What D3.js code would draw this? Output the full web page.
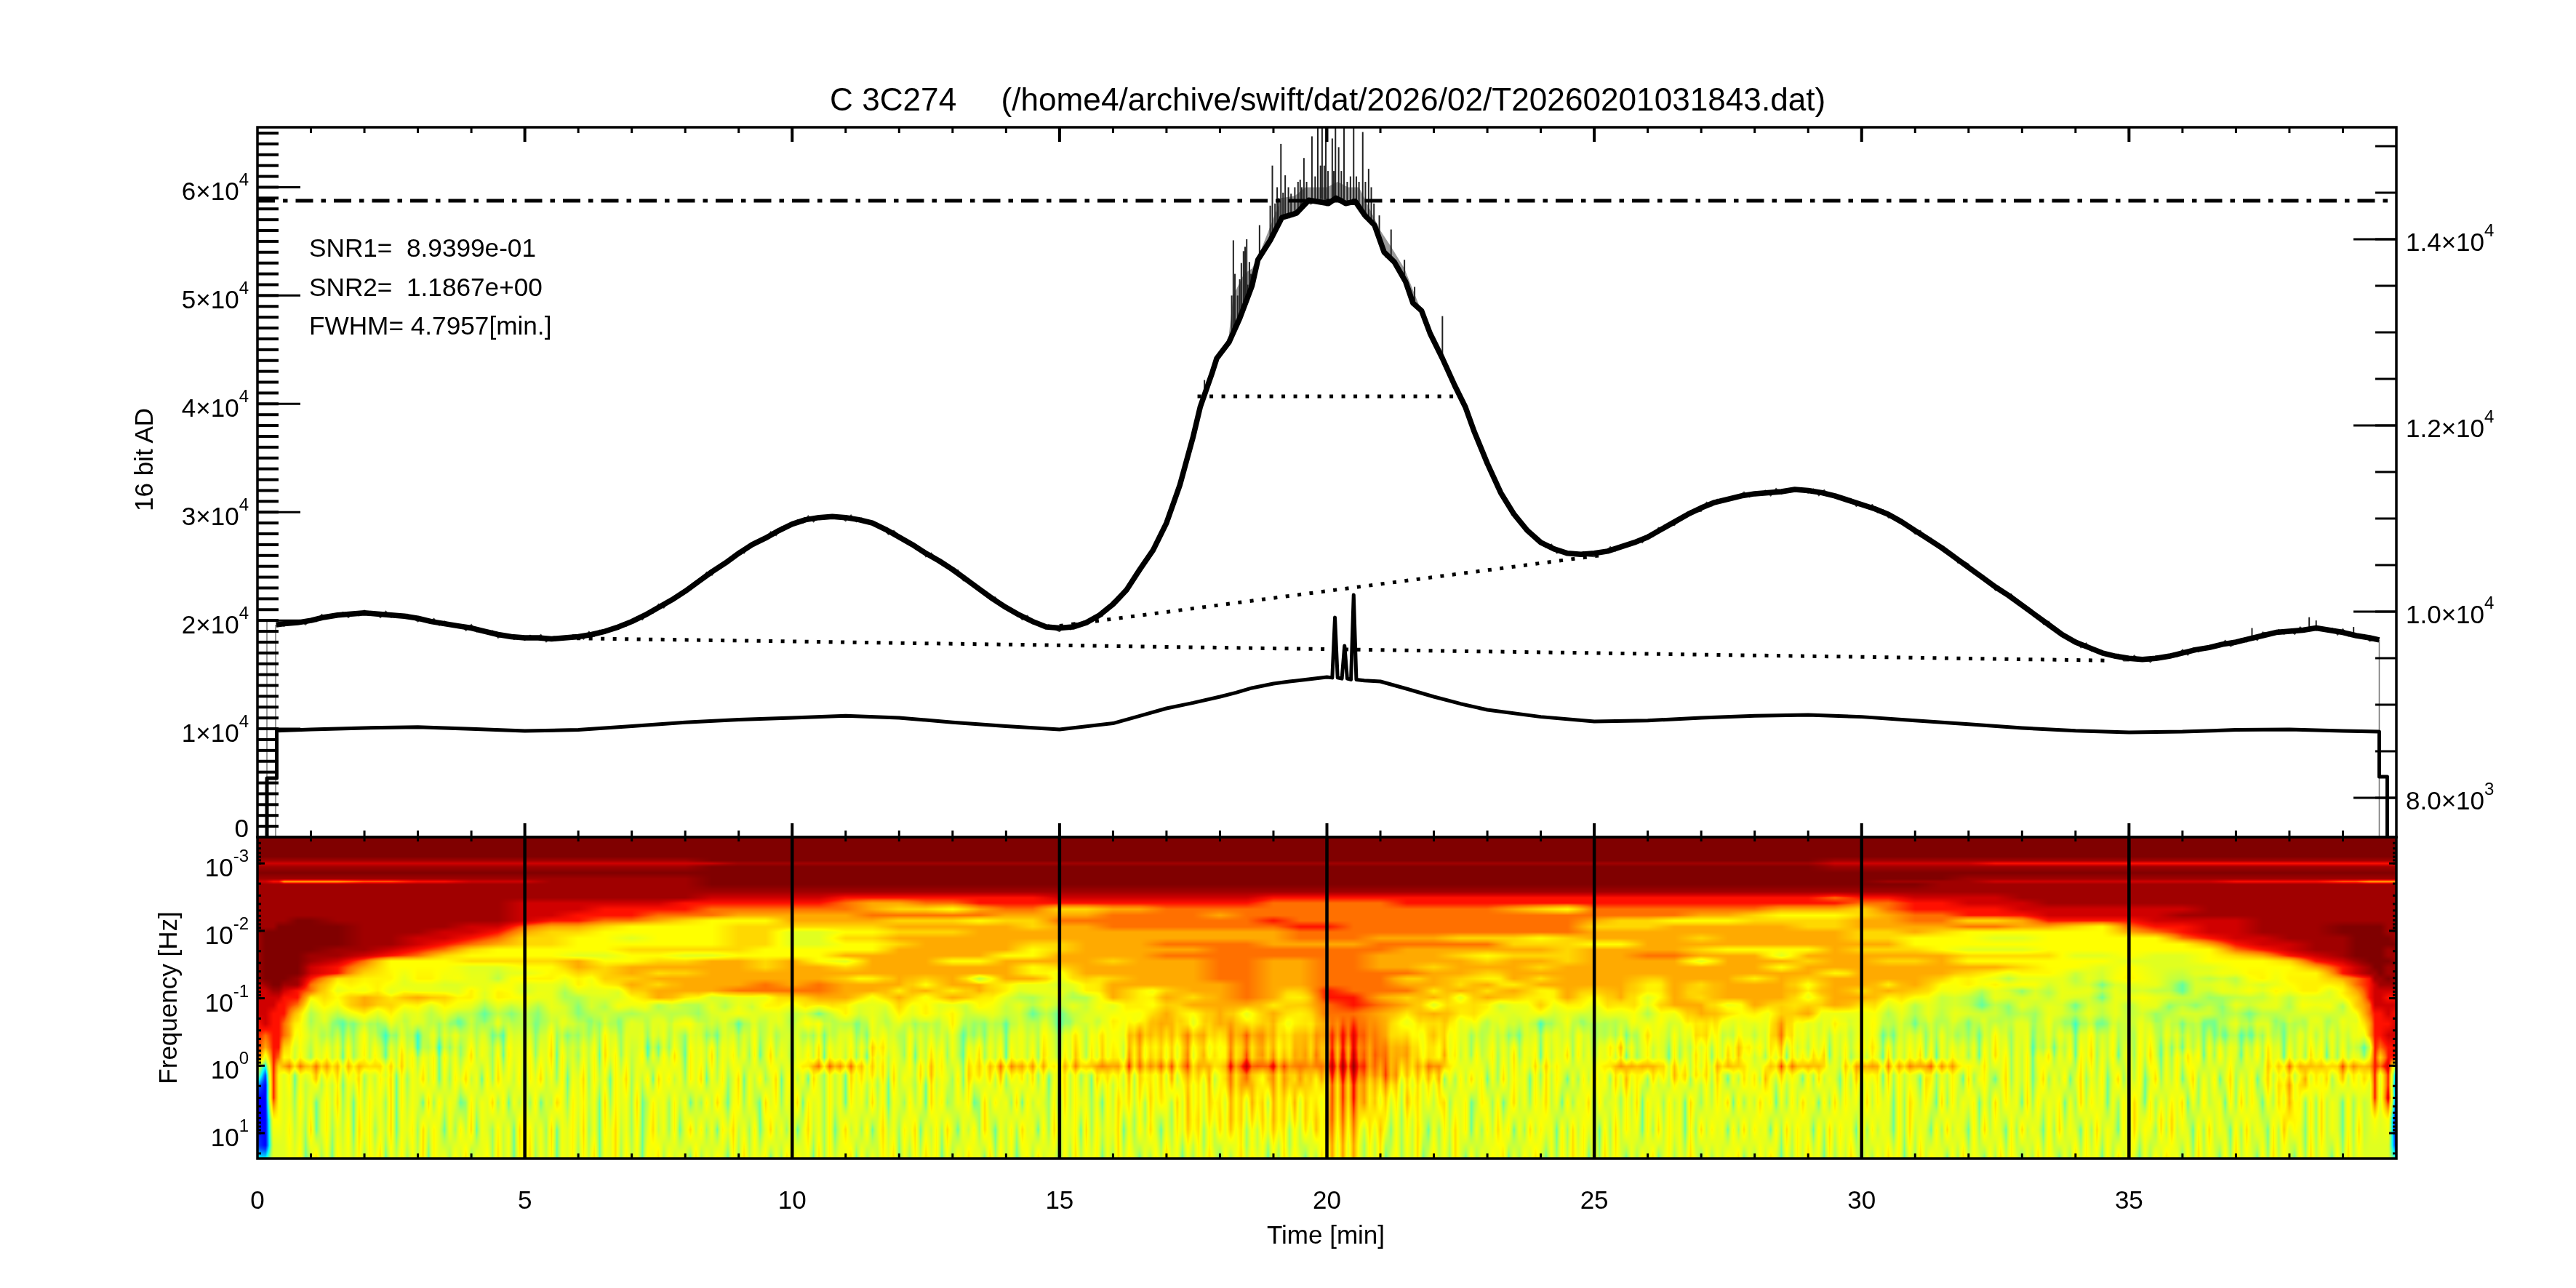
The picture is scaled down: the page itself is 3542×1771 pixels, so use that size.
<!DOCTYPE html>
<html><head><meta charset="utf-8">
<script src="https://cdn.jsdelivr.net/npm/d3@7"></script>
<style>
html,body{margin:0;padding:0;background:#fff;}
#wrap{position:relative;width:3542px;height:1771px;overflow:hidden;}
canvas{position:absolute;}
svg{position:absolute;left:0;top:0;}
text{font-family:"Liberation Sans",Arial,sans-serif;fill:#000;white-space:pre;}
</style></head>
<body><div id="wrap"></div>
<script>
// ---------- text ----------
const titleText = "C 3C274     (/home4/archive/swift/dat/2026/02/T20260201031843.dat)";
const infoLines = ["SNR1=  8.9399e-01","SNR2=  1.1867e+00","FWHM= 4.7957[min.]"];
const xTickLabels = [0,5,10,15,20,25,30,35];
const leftLabels = [[0,"0"],[10000,"1"],[20000,"2"],[30000,"3"],[40000,"4"],[50000,"5"],[60000,"6"]];
const rightLabels = [[8000,"8.0","3"],[10000,"1.0","4"],[12000,"1.2","4"],[14000,"1.4","4"]];
const freqLabels = [-3,-2,-1,0,1];

// ---------- upper series (left axis, 16 bit AD) ----------
const upperT = [0.35,0.5,0.75,1,1.25,1.5,1.75,2,2.25,2.5,2.75,3,3.25,3.5,3.75,4,4.25,4.5,4.75,5,5.25,5.5,5.75,6,6.25,6.5,6.75,7,7.25,7.5,7.75,8,8.25,8.5,8.75,9,9.25,9.5,9.75,10,10.25,10.5,10.75,11,11.25,11.5,11.75,12,12.25,12.5,12.75,13,13.25,13.5,13.75,14,14.25,14.5,14.75,15,15.25,15.5,15.75,16,16.25,16.5,16.75,17,17.25,17.5,17.63,17.85,17.94,18.17,18.37,18.6,18.71,18.94,19.16,19.43,19.66,20.03,20.17,20.35,20.53,20.71,20.89,21.07,21.26,21.47,21.61,21.77,21.93,22.16,22.39,22.59,22.75,23,23.25,23.5,23.75,24,24.25,24.5,24.75,25,25.25,25.5,25.75,26,26.25,26.5,26.75,27,27.25,27.5,27.75,28,28.25,28.5,28.75,29,29.25,29.5,29.75,30,30.25,30.5,30.75,31,31.25,31.5,31.75,32,32.25,32.5,32.75,33,33.25,33.5,33.75,34,34.25,34.5,34.75,35,35.25,35.5,35.75,36,36.25,36.5,36.75,37,37.25,37.5,37.75,38,38.25,38.5,38.75,39,39.25,39.5,39.68];
const upperV = [19600,19700,19800,20000,20300,20500,20600,20700,20600,20500,20400,20200,19900,19700,19500,19300,19000,18700,18500,18400,18400,18300,18400,18500,18700,19000,19400,19900,20500,21200,21900,22700,23600,24500,25300,26200,27000,27600,28300,28900,29300,29500,29600,29500,29300,29000,28400,27700,27000,26200,25500,24700,23800,22900,22000,21200,20500,19900,19400,19300,19400,19800,20500,21500,22800,24700,26500,29000,32500,37000,39700,42800,44200,45700,47900,50900,53300,55100,57200,57600,58800,58500,59000,58500,58700,57400,56500,54000,53100,51300,49300,48600,46500,44200,41700,39700,37500,34500,31800,29800,28300,27200,26600,26200,26100,26200,26400,26800,27200,27700,28400,29100,29800,30400,30900,31200,31500,31700,31800,31900,32100,32000,31800,31500,31100,30700,30300,29800,29100,28300,27500,26700,25800,24900,24000,23100,22300,21400,20500,19600,18700,18000,17500,17000,16700,16500,16400,16500,16700,17000,17300,17500,17800,18000,18300,18600,18900,19000,19100,19300,19100,18900,18600,18400,18200];
const spikeT = [17.71,18.22,18.25,18.28,18.33,18.37,18.40,18.44,18.47,18.50,18.52,18.55,18.58,18.74,18.94,18.98,19.03,19.07,19.10,19.14,19.18,19.22,19.28,19.33,19.40,19.46,19.50,19.53,19.57,19.62,19.72,19.78,19.83,19.88,19.91,19.95,19.98,20.02,20.10,20.13,20.16,20.22,20.27,20.32,20.38,20.44,20.50,20.55,20.60,20.67,20.72,20.78,20.83,20.88,20.98,21.20,21.45,21.64,22.16,37.3,38.37,38.5,39.2];
const spikeV = [42200,50000,55100,52000,50000,51500,53000,54100,54500,55200,51000,53100,52000,56500,58300,62000,58500,60000,59000,64000,59500,61100,60000,59400,60000,60500,60700,60000,62700,60500,64700,61000,65500,62000,65500,62000,65500,61500,64500,61500,65500,63700,61500,65500,60500,61000,65500,61000,60500,65100,60500,61700,60000,58500,57400,56100,53300,50800,48100,19300,20300,20000,19400];
const envelopeT = [18.17,18.25,18.45,18.6,18.75,18.95,19.15,19.4,19.6,19.8,20,20.2,20.4,20.6,20.8,21,21.2,21.45,21.65,21.9];
const envelopeV = [46500,50000,52000,52500,54000,56500,59000,59200,60000,60000,60000,60500,60000,60000,58000,56000,54500,52500,50000,47000];
// sample-to-sample scatter about the curve, one char per 0.1 min
const hairRow = "4444527361 6283547162 7351826374 1638275461 8253716425 2738164537 6182735462 3716281546 5273816425 7162538174"+
"3728164635 1827365418 6352718463 2817536482 7361825473 1628374516 8273615482 3716582637 1748263581 7362847158"+
"2738465172 6183725461 8273516482 3618274563 7281635472 1638274561 7283516473 1827364582 6371825463 2718364571"+
"6382715463 1827364517 8263715482 3627184563 7182635471 2836175462 8172635481 3726185472 6183725471 82637144444";

// ---------- lower series (right axis) ----------
const lowerT = [0.177,0.177,0.36,0.36,1,2,3,4,5,6,7,8,9,10,11,12,13,14,15,16,16.5,17,17.5,18,18.3,18.6,19,19.3,19.6,20,20.1,20.15,20.2,20.28,20.33,20.38,20.45,20.5,20.55,20.7,21,21.5,22,22.5,23,24,25,26,27,28,29,30,31,32,33,34,35,36,37,38,39,39.68,39.68,39.83,39.83];
const lowerV = [7578,8211,8211,8720,8734,8750,8760,8740,8718,8730,8770,8810,8840,8859,8880,8860,8810,8770,8734,8800,8880,8961,9020,9086,9130,9180,9227,9250,9270,9297,9290,9937,9290,9280,9633,9280,9270,10180,9270,9260,9250,9170,9086,9010,8945,8870,8820,8830,8860,8880,8890,8870,8830,8790,8750,8720,8703,8710,8730,8735,8718,8711,8227,8227,7578];

// ---------- reference lines ----------
const peakLevel = [[0,58760],[40,58760]];
const fwhmLine = [[17.58,40690],[22.39,40690]];
const baselineA = [[15.0,19500],[25.1,26000]];
const baselineB = [[5.3,18400],[34.65,16300]];
const upperStartLines = [[0.177,0,20000],[0.34,0,19600],[39.68,0,18200]];

// ---------- spectrogram ----------
// each char = power level 0..f; columns = colTimes, rows = rowExp (log10 of the axis value)
const colTimes = [0,.15,.3,.4,.5,.75,1,1.5,2,2.5,3,3.5,4,4.5,5,5.5,6,6.5,7,7.5,8,8.5,9,9.5,10,10.5,11,11.5,12,12.5,13,13.5,14,14.5,15,15.5,16,16.5,17,17.5,18,18.5,19,19.5,20,20.5,21,21.5,22,22.5,23,23.5,24,24.5,25,25.5,26,26.5,27,27.5,28,28.5,29,29.5,30,30.5,31,31.5,32,32.5,33,33.5,34,34.5,35,35.5,36,36.5,37,37.5,38,38.5,39,39.25,39.5,39.6,39.7,39.85,40];
const rowExp = [-3.39,-3.10,-3.04,-3.00,-2.95,-2.86,-2.77,-2.73,-2.69,-2.58,-2.49,-2.41,-2.32,-2.23,-2.15,-2.06,-1.98,-1.89,-1.80,-1.72,-1.63,-1.55,-1.46,-1.37,-1.29,-1.20,-1.11,-1.01,-0.90,-0.77,-0.62,-0.45,-0.27,-0.12,0.01,0.14,0.29,0.48,0.80,1.18,1.38];
const powerRows = [
"ffffff ffffffff ffffffffff ffffffffff ffffffffff ffffffffff ffffffffff ffffffffff ffffffff fffffff",
"ffffff ffffffff ffffffffff ffffffffff ffffffffff ffffffffff ffffffffff ffffffffff ffffffff fffffff",
"eeeeee eeeeeeee eeeeeeefff ffffffffff ffffffffff ffffffffff fffffffffe eeeeeeeeee eeeeeeee eeeeeee",
"dddddd dddddddd ddddddddee eeeeeeeeee eeeeeeeeee eeeeeeeeee eeeeeeeeed dddddccccc cccccccc ccccccc",
"eeeeee eeeeeeee eeeeeeefff ffffffffff ffffffffff ffffffffff fffffffffe eeeeeeeeee eeeeeeee eeeeeee",
"ffffff ffffffff ffffffffff ffffffffff ffffffffff ffffffffff ffffffffff ffffffffff ffffffff fffffff",
"eeeeee eeeeeeee eeeeeeefff ffffffffff ffffffffff ffffffffff ffffffffff ffffeeeeee eeeeeeee eeeeeee",
"ddccaa aabbccdd deeeeeefff ffffffffff ffffffffff ffffffffff ffffffffff feeeeddddd ddddcccc bbaaaaa",
"eeeeee eeeeeeee eeeeeeefff ffffffffff ffffffffff ffffffffff ffffffffff fffeeeeeee eeeeeeee eeeeeee",
"eeeeee eeeeeeee eeeeeeeeee eeeeeeeeee eeeeeeeeee eeeeeeeeee eeeeeeeeee eeeeeeeeee eeeeeeee eeeeeee",
"eeeeee eeeeeeee eeeeeeeddd ddcccccccc ddddddddcc cccccccccc cccccccccb ccddddeeee eeeeeeee eeeeeee",
"eeeeee eeeeeeee ddddddcccc ccbaabbccc ccccccccbb bbbccccccc cccccccccc bbccdddeee eeeeeeee eeeeeee",
"eeeeee eeeeeeee dddccccbbb bbba998abb 99aabbbbbb bbbbbbba98 bbbbbbbaaa 9bccccdddd dddeeeee eeeeeee",
"eeeeee eeeeeeee ddcccbbbaa aaabbbbbaa aabbbbabbb bbbbbbbbbb bbbbaa9888 9abbcccddd ddeeeeee eeeeeee",
"eeeeef feeeeeee dccbba9888 aaaa999899 bbbbbbbbcb bbbbbbbbbb a998889999 aabb99accc cddddeee eeeeeee",
"eeefff ffeeeedd baa9888899 9999aaaaa9 aabbbbbbbc cbbbbbbbbb 999aaaaa99 aaaabbaa98 bccddeee fffffee",
"efffff ffeeeddc a998888899 7788999aaa aaaaaaaaab bbbbbbbbbb aaaaaaaaaa 99a9888888 abcddeee fffffee",
"efffff ffeeddcb 9988788899 7799aaaaaa aaaaaaaaab bbaaa99989 aaaa9aaaaa 9988877888 88bcddee efffffe",
"efffff ffeedcba 9988888899 77889aaaa9 9aaabbbbaa aabbbbb999 88aaaaaaaa aa88888888 888acdde effffff",
"efffff feedcb98 8888999998 8888aaaaa8 9aaaaabbbb bbbaaaaaa9 aaaa98888a 9998777888 8888bcde effffee",
"efffff eedcb988 8877887788 88aaaaaa88 aaaabbbbbb bbaaa98999 aabbaaa7aa aaaa999977 87789acd effffee",
"efffff edb88899 99a8899aa9 a87aaa88aa aa9aaabbaa bbaaaa9aa9 aaaa7aaa9a a99a888888 7778889c deffffe",
"efffff dca88877 88a9aaaaa9 aa9aaaaaa8 9aaaaabbaa bbaa9aaa9a aaaaaaa8aa aaaaaa9887 8777888a cdeffee",
"efffff dc988877 7899a99aaa aaaaaaaaa8 8aaaaabbaa bbbbaa9aaa aaaaaaaaa8 aaaa988877 87778888 cdeefee",
"effffe c9888877 88899aaaaa aa98a9a7aa 899aaabbaa bbb9a98a9a aa9aaa8a9a aaa9877777 87767888 abceefe",
"deffee b8887778 7788a9aaab abaaa8aa87 78aaaaabaa bbbaa9a8aa aa8a9aaa8a a9a8888776 77677788 9bcdeee",
"ddeedc b7887788 77779aaabb bbaa9a8a87 78a89aaba9 cbbb9a9a8a 9a8a9aaa9a 9a98776777 76677888 8acdddd",
"ddddcc 98a9a988 87678a9778 9aa8a8a976 76a8a9aba8 cca9a8a98a 8a7a9aaa8a a987677776 87766777 89cddcc",
"dddccb 88a98877 7767876778 8987987877 77889aaa99 bcba898798 898aa7a99a 9877667767 77667778 79bdddd",
"ddccc9 77887766 6767676787 7687888776 6788a8a8a8 bba9a98787 7878a989a7 8777776777 76776677 78bccdc",
"cdccb8 76677667 6776778767 7867768667 6789a8a998 aba8987767 6787987a78 8767677766 77667767 78acccd",
"cbccb8 76766776 7767777677 7677777677 788a9a9a99 aba8977677 7687977a77 8677677777 77766677 77accdd",
"cacc97 77776677 7777767777 7778777777 7889898989 9aa9877777 7877788877 8777777677 77677777 767cbcc",
"c7cb87 77777777 7777777777 7777777777 7889898989 9aa9877777 7777787787 7777777777 77777777 778c9cc",
"74c9aa a9987777 7777777777 7aa87878a9 8aaaaa9baa aba9a77787 7aa87a7aa7 a9aa877777 777777a9 aaacbd5",
"62c877 88777777 7777777777 7778787887 7788898989 9aa9877777 7888878877 8777777777 77777788 888c7c2",
"31c877 77777777 7777777777 7777777777 7778888989 8998777777 7877778777 7777777777 77777798 787c7c1",
"11c877 77777777 7777777777 7777777777 7778888888 8988777777 7777777777 7777777777 77777787 777c7d1",
"118877 77777777 7777777777 7777777777 7777788888 8887777777 7777777777 7777777777 78777787 7778780",
"217777 77777777 7777777777 7777777777 7777777777 7777777777 7777777777 7777777777 77777777 7777771",
"447777 77777777 7777777777 7777777777 7777777777 7777777777 7777777777 7777777777 77777777 7777774"
];
// small round patches in the middle band, one char per 0.25 min
const spotExp = [-1.30,-1.08,-0.87,-0.66,-0.44];
const spotRows = [
"4414442444 4144244414 4442414444 2444441424 4144424414 4444124444 1442444414 4424144441 4442444144 4441442444 2444414424 1444244441 4414444244 4144441424 4442144414 4244441444 4",
"4244144424 1444424144 2441444142 4414244414 4144442414 2444144244 4142444144 2414444142 4144244414 1424444142 4414424144 4244141444 2414442441 4424144414 2444142444 1424414444 4",
"2414142441 4241444142 4144241424 1442414144 2414424141 4241442414 1424144241 4414241442 4124142414 2441424144 1424142414 4241424144 2414142441 4142441424 1441424142 4414241442 4",
"1424141241 4142414142 4124214142 4141241424 1421414142 4141242414 1241421414 2414124142 4141421424 1414241241 4214142414 1241424141 2414141424 1241421414 2414241241 4142414142 4",
"4142414241 2414241414 2141424142 4124141421 4142412414 2141241424 1414214142 4124142141 4214124142 4124142414 1241424124 1421414241 2414214142 4141241424 1424124141 4214142414 4"
];
// fine vertical structure in the high-frequency part, one char per 0.1 min
const streakExp = [-0.15,0.2,0.55,0.95,1.38];
const streakRows = [
"4444445364 2546351624 6364153746 2546163524 7354261645 3625471634 2536174625 3461526374 1645372546 3526147354"+
"2546371645 3625174635 4261537462 5316472536 1645362754 2637415263 5417362546 3625714635 4484584675 8464656475"+
"5949495646 5645564535 5484635263 4625372546 1635472635 2546371524 6354162537 4615263745 3526471635 2647153624"+
"5364172536 4726153645 2516374625 3615472536 1647253614 5263741526 3746152635 4153627451 6352746152 63541444444",
"4444446153 4725361547 2536471625 4736152647 3516274536 1647352615 4726351647 2536174635 2647153624 7153624715"+
"6351742635 1746352617 3542617354 2617453627 1546372615 4736251746 3527164536 2714635271 4584675436 8475464536"+
"4949495635 3746152637 4815263746 1527364516 2736415263 7451627354 1635274615 3627415263 5174263541 6273541627"+
"3546172635 4176253641 7256314725 3614725361 4725361472 5361472536 1472536147 2536147253 6147253614 72536444444",
"4444445263 5146372516 3645271635 4172635412 6354726153 5261437526 4635172645 2713645263 5142637415 6253174625"+
"3716452635 1645273615 4263517462 3546127364 5271635426 1736452516 3746251635 4162735264 5274627461 7463726453"+
"5949495746 3625174635 3672546136 5261473526 4735162547 1634526371 6452635174 2536471625 3746152637 4516273645"+
"2736451627 5364172635 4615273645 1726354615 2736451526 3741625364 7152634516 2736415263 7451627354 16253444444",
"4444446352 7146253617 4625371546 2736415263 7154263517 4635271546 3725164735 2614735261 4736251647 3526147352"+
"6147352614 7352614735 2647153627 4153627415 3627451627 3546172635 4715263741 5263746152 6374615263 7461526374"+
"6949495263 7415263741 5263746152 6374615273 6451627364 5162736451 6273645162 7364516273 6451627364 5162736451"+
"7263541627 3541627354 1627354162 7354162735 4162735416 2735416273 5416273541 6273541627 3541627354 16273444444",
"4444445461 3725164536 2647153625 3716452637 1546273516 4725361546 2637154726 3516472635 4172536416 2735461527"+
"3645172635 4716253647 1526374615 2637451726 3514627354 1627354615 2736415263 7451526374 1625736451 5273641527"+
"4949495263 7146253714 6352741625 3647152637 4152637461 5273641526 3714625374 1625364715 2637415263 7451625374"+
"1526374615 2736451627 3541627364 1527364152 7364516273 6415263745 1627354162 7354162735 4162735416 27354444444"
];
// power level colour stops 0..f
const levelColors = ["#0000a0","#0000ff","#0040ff","#00a0ff","#00ffff","#60ffa0","#b0ff50","#e0ff20","#ffff00","#ffd800","#ffaa00","#ff7000","#ff1000","#d00000","#a00000","#800000"];

// ---------- layout ----------
const L=354,R=3295,T1=175,B1=1151,B2=1593;
const svg=d3.select("#wrap").append("svg").attr("width",3542).attr("height",1771);
const x=d3.scaleLinear().domain([0,40]).range([L,R]);
const yLeft=d3.scaleLinear().domain([0,65536]).range([B1,T1]);
const yRight=d3.scaleLinear().domain([7578,15203]).range([B1,T1]);
const yFreq=d3.scaleLog().domain([Math.pow(10,-3.39),Math.pow(10,1.377)]).range([B1,B2]);
const centre=d3.scaleLinear().domain(upperT).range(upperV);

// ---------- spectrogram canvas ----------
(function(){
  const cw=R-L, ch=B2-B1;
  const canvas=d3.select("#wrap").insert("canvas","svg").attr("width",cw).attr("height",ch)
    .style("left",L+"px").style("top",B1+"px").node();
  const ctx=canvas.getContext("2d");
  const img=ctx.createImageData(cw,ch);
  const parse=s=>Array.from(s.replace(/ /g,"")).map(c=>parseInt(c,16));
  const grid=powerRows.map(parse);
  grid.forEach((g,i)=>{ if(g.length!==colTimes.length) throw new Error("row "+i+" has "+g.length); });
  if(grid.length!==rowExp.length) throw new Error("rows "+grid.length);
  const streak=streakRows.map(parse);
  streak.forEach((g,i)=>{ if(g.length!==401) throw new Error("streak "+i+" has "+g.length); });
  const spot=spotRows.map(parse);
  spot.forEach((g,i)=>{ if(g.length!==161) throw new Error("spot "+i+" has "+g.length); });
  const rowPx=rowExp.map(e=>yFreq(Math.pow(10,e)));
  const strPx=streakExp.map(e=>yFreq(Math.pow(10,e)));
  const spoPx=spotExp.map(e=>yFreq(Math.pow(10,e)));
  const color=d3.scaleLinear().domain(d3.range(16)).range(levelColors).clamp(true);
  const table=d3.range(1501).map(i=>d3.rgb(color(i/100)));
  const lerp=(arr,px,y)=>{
    let k=Math.min(d3.bisectRight(px,y)-1,px.length-2); if(k<0)k=0;
    const a=Math.max(0,Math.min(1,(y-px[k])/(px[k+1]-px[k])));
    return arr[k]*(1-a)+arr[k+1]*a;
  };
  for(let px=0;px<cw;px++){
    const t=x.invert(L+px+.5);
    let j=Math.min(d3.bisectRight(colTimes,t)-1,colTimes.length-2);
    const u=(t-colTimes[j])/(colTimes[j+1]-colTimes[j]);
    const ft=Math.min(t*10,399.999), fi=Math.floor(ft), fu=ft-fi;
    const s=streak.map(r=>r[fi]*(1-fu)+r[fi+1]*fu);
    const gt=Math.min(t*4,159.999), gi=Math.floor(gt), gu=gt-gi;
    const sp=spot.map(r=>r[gi]*(1-gu)+r[gi+1]*gu);
    for(let py=0;py<ch;py++){
      const y=B1+py+.5;
      let i=Math.min(d3.bisectRight(rowPx,y)-1,rowPx.length-2); if(i<0)i=0;
      const w=Math.max(0,Math.min(1,(y-rowPx[i])/(rowPx[i+1]-rowPx[i])));
      let v=(grid[i][j]*(1-u)+grid[i][j+1]*u)*(1-w)+(grid[i+1][j]*(1-u)+grid[i+1][j+1]*u)*w;
      const base=v;
      const spotW=Math.max(0,Math.min(1,(y-1328)/22,(1455-y)/35))*Math.max(0,Math.min(1,(10-base)/1.5));
      if(spotW>0) v+=spotW*((lerp(sp,spoPx,y)-4)*0.45+0.35);
      const ramp=Math.max(0,Math.min(1,(y-1395)/55));
      if(ramp>0) v+=ramp*(lerp(s,strPx,y)-4)*0.65;
      const c=table[Math.max(0,Math.min(1500,Math.round(v*100)))];
      const q=(py*cw+px)*4;
      img.data[q]=c.r;img.data[q+1]=c.g;img.data[q+2]=c.b;img.data[q+3]=255;
    }
  }
  ctx.putImageData(img,0,0);
})();

// ---------- lines ----------
svg.append("defs").append("clipPath").attr("id","up").append("rect")
  .attr("x",L).attr("y",T1).attr("width",R-L).attr("height",B1-T1);
const plot=svg.append("g").attr("clip-path","url(#up)");
const upperLine=d3.line().x((d,i)=>x(upperT[i])).y(d=>yLeft(d));
const lowerLine=d3.line().x((d,i)=>x(lowerT[i])).y(d=>yRight(d));
const pairLine=d3.line().x(d=>x(d[0])).y(d=>yLeft(d[1]));

plot.selectAll("line.start").data(upperStartLines).join("line")
  .attr("x1",d=>x(d[0])).attr("x2",d=>x(d[0])).attr("y1",d=>yLeft(d[1])).attr("y2",d=>yLeft(d[2]))
  .attr("stroke","#777").attr("stroke-width",1.5);
// noise envelope and spikes around the peak
plot.append("path").attr("d",d3.area().x((d,i)=>x(envelopeT[i])).y0(d=>yLeft(centre(d))).y1((d,i)=>yLeft(envelopeV[i]))(envelopeT))
  .attr("fill","#555").attr("fill-opacity",.6);
plot.selectAll("line.spike").data(spikeT).join("line")
  .attr("x1",d=>x(d)).attr("x2",d=>x(d))
  .attr("y1",(d,i)=>yLeft(spikeV[i]))
  .attr("y2",d=>yLeft(centre(d)))
  .attr("stroke","#222").attr("stroke-width",2);
// sample scatter about the curve
const hairDigits=Array.from(hairRow.replace(/ /g,"")).map(Number);
const hairT=hairDigits.map((d,i)=>i/10);
const hairLine=d3.line().defined((d,i)=>hairT[i]>=0.35&&hairT[i]<=39.68)
  .x((d,i)=>x(hairT[i])).y((d,i)=>yLeft(centre(hairT[i])+(d-4.5)*90));
plot.append("path").attr("d",hairLine(hairDigits)).attr("fill","none").attr("stroke","#444").attr("stroke-width",1.6);
plot.append("path").attr("d",upperLine(upperV)).attr("fill","none").attr("stroke","#000").attr("stroke-width",7.5).attr("stroke-linejoin","round");
plot.append("path").attr("d",lowerLine(lowerV)).attr("fill","none").attr("stroke","#000").attr("stroke-width",5).attr("stroke-linejoin","round");

plot.append("path").attr("d",pairLine(peakLevel)).attr("fill","none").attr("stroke","#000").attr("stroke-width",5).attr("stroke-dasharray","24 11 6.5 11");
[fwhmLine,baselineA,baselineB].forEach(p=>{
  plot.append("path").attr("d",pairLine(p)).attr("fill","none").attr("stroke","#000").attr("stroke-width",5).attr("stroke-dasharray","5 11.5");
});

// ---------- axes ----------
function ticks(gen,scale,values,size,width,tx,ty){
  const g=svg.append("g").attr("transform",`translate(${tx},${ty})`)
    .call(gen(scale).tickValues(values).tickSize(size).tickSizeOuter(0).tickFormat("").offset(0));
  g.select(".domain").remove();
  g.selectAll("line").attr("stroke","#000").attr("stroke-width",width);
  return g;
}
const minutes=d3.range(0,41), fives=d3.range(5,40,5);
// upper panel
ticks(d3.axisBottom,x,minutes.slice(1,40),8,3,0,T1);
ticks(d3.axisBottom,x,fives,20,4,0,T1);
ticks(d3.axisTop,x,minutes.slice(1,40),9,3,0,B1);
ticks(d3.axisTop,x,fives,19,4,0,B1);
ticks(d3.axisRight,yLeft,d3.range(1000,66000,1000),29,4,L,0);
ticks(d3.axisRight,yLeft,d3.range(10000,70000,10000),59,3,L,0);
ticks(d3.axisLeft,yRight,d3.range(8000,15500,500),29,3,R,0);
ticks(d3.axisLeft,yRight,d3.range(8000,15000,2000),59,3,R,0);
// lower panel
ticks(d3.axisBottom,x,minutes.slice(1,40),6,3,0,B1);
ticks(d3.axisTop,x,minutes.slice(1,40),7,3,0,B2);
ticks(d3.axisBottom,x,fives,B2-B1,4.5,0,B1);
const logMinor=[];
d3.range(-4,2).forEach(e=>d3.range(1,10).forEach(m=>{const v=m*Math.pow(10,e); if(v>=yFreq.domain()[0]&&v<=yFreq.domain()[1]) logMinor.push(v);}));
const logMajor=freqLabels.map(e=>Math.pow(10,e));
ticks(d3.axisRight,yFreq,logMinor,5,3,L,0);
ticks(d3.axisRight,yFreq,logMajor,10,3,L,0);
ticks(d3.axisLeft,yFreq,logMinor,5,3,R,0);
ticks(d3.axisLeft,yFreq,logMajor,10,3,R,0);
// frames
[[T1,B1],[B1,B2]].forEach(([a,b])=>{
  svg.append("rect").attr("x",L).attr("y",a).attr("width",R-L).attr("height",b-a)
    .attr("fill","none").attr("stroke","#000").attr("stroke-width",3.5);
});

// ---------- text ----------
const FS=35, SUP=24;
function power(sel,base,exp){
  sel.append("tspan").text(base);
  sel.append("tspan").attr("font-size",SUP).attr("dy",-20).text(exp);
}
svg.append("text").attr("x",1141).attr("y",152).attr("font-size",44.15).text(titleText);
infoLines.forEach((s,i)=>svg.append("text").attr("x",425).attr("y",[353,407,460][i]).attr("font-size",35.2).text(s));
xTickLabels.forEach(v=>svg.append("text").attr("x",x(v)).attr("y",1662).attr("font-size",FS).attr("text-anchor","middle").text(v));
svg.append("text").attr("x",1823).attr("y",1710).attr("font-size",FS).attr("text-anchor","middle").text("Time [min]");
leftLabels.forEach(([v,m])=>{
  const t=svg.append("text").attr("x",342).attr("y",v===0?1151:yLeft(v)+18).attr("font-size",FS).attr("text-anchor","end");
  if(v===0) t.text(m); else power(t,m+"×10","4");
});
rightLabels.forEach(([v,m,e])=>{
  const t=svg.append("text").attr("x",3308).attr("y",yRight(v)+16).attr("font-size",FS);
  power(t,m+"×10",e);
});
freqLabels.forEach(e=>{
  const t=svg.append("text").attr("x",342).attr("y",yFreq(Math.pow(10,e))+18).attr("font-size",FS).attr("text-anchor","end");
  power(t,"10",String(e));
});
svg.append("text").attr("transform","translate(210,632) rotate(-90)").attr("font-size",FS).attr("text-anchor","middle").text("16 bit AD");
svg.append("text").attr("transform","translate(243,1372) rotate(-90)").attr("font-size",FS).attr("text-anchor","middle").text("Frequency [Hz]");
</script></body></html>
